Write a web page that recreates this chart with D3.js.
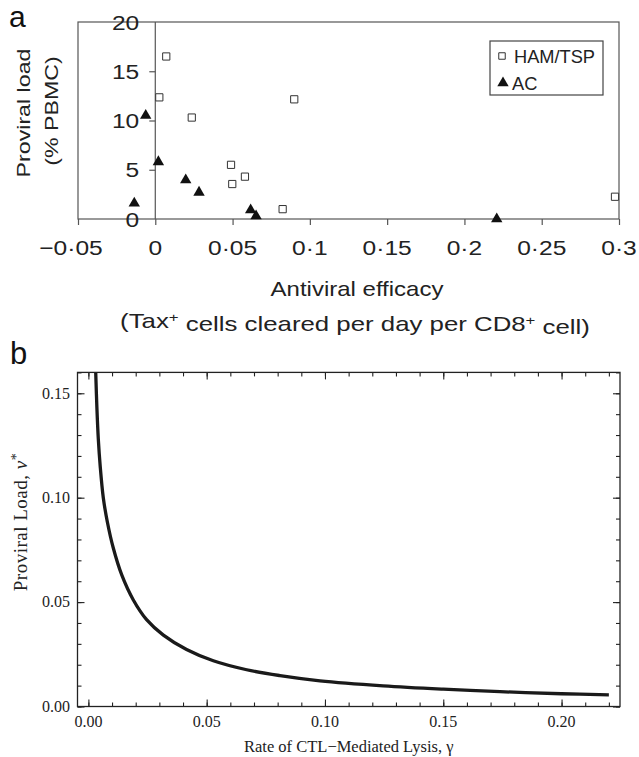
<!DOCTYPE html>
<html>
<head>
<meta charset="utf-8">
<script src="https://cdn.jsdelivr.net/npm/d3@7"></script>
<style>
  body { margin: 0; background: #fff; }
  svg { display: block; }
</style>
</head>
<body>
<div id="chart"></div>
<script>
'use strict';

// panel a: scatter of proviral load against antiviral efficacy
const hamX = [0.0071, 0.0026, 0.0236, 0.0899, 0.0490, 0.0498, 0.0580, 0.0824, 0.2974];
const hamY = [16.5, 12.35, 10.3, 12.15, 5.5, 3.55, 4.3, 1.0, 2.26];
const acX  = [-0.0062, 0.0020, -0.0136, 0.0197, 0.0283, 0.0617, 0.0652, 0.2209];
const acY  = [10.5, 5.8, 1.6, 3.96, 2.7, 0.91, 0.3, 0.0];
const xTicksA = [-0.05, 0, 0.05, 0.1, 0.15, 0.2, 0.25, 0.3];
const yTicksA = [0, 5, 10, 15, 20];

// panel b: model curve, proviral load v* against lysis rate gamma
const gammaB = [0.0029, 0.0031, 0.0036, 0.0042, 0.0050, 0.0063, 0.0080, 0.0105, 0.0141, 0.0190, 0.0246,
                0.0317, 0.0415, 0.0528, 0.0669, 0.0810, 0.0979, 0.1246, 0.1500, 0.1740, 0.2000, 0.2200];
const loadB  = [0.1665, 0.160, 0.143, 0.128, 0.115, 0.100, 0.0885, 0.0760, 0.0630, 0.0510, 0.0416,
                0.0342, 0.0273, 0.0219, 0.0176, 0.0148, 0.0123, 0.0099, 0.0083, 0.0071, 0.0061, 0.0056];
const xMajorB = [0, 0.05, 0.1, 0.15, 0.2];
const yMajorB = [0, 0.05, 0.1, 0.15];

const width = 639, height = 757;

let svg = d3.select("#chart")
  .append("svg")
    .attr("width", width)
    .attr("height", height);

svg.append("rect")
  .attr("width", width)
  .attr("height", height)
  .style("fill", "#fff");

// text helper, sx widens the glyphs along the text direction
function addText(g, x, y, str, size, opts) {
  opts = opts || {};
  let t = g.append("text")
    .attr("transform", "translate(" + x + "," + y + ") rotate(" + (opts.rot || 0) + ") scale(" + (opts.sx || 1) + ",1)")
    .attr("text-anchor", opts.anchor || "start")
    .style("font-family", opts.family || "'Liberation Sans', Arial, sans-serif")
    .style("font-size", size + "px")
    .style("fill", opts.fill || "#222");
  if (opts.dy) t.attr("dy", opts.dy);
  if (opts.dx) t.attr("dx", opts.dx);
  if (opts.spacing) t.style("letter-spacing", opts.spacing + "px");
  if (str !== null) t.text(str);
  return t;
}

const fmtA = function(v) {
  if (v === 0) return "0";
  return d3.format("~g")(v).replace("-", "\u2212").replace(".", "\u00b7");
};

/* ---------------- panel a ---------------- */
let xA = d3.scaleLinear().domain([-0.05, 0.3]).range([78, 619]);
let yA = d3.scaleLinear().domain([0, 20]).range([219, 22]);
const gA = svg.append("g");
const sansW = 1.17;

gA.append("rect")
  .attr("x", xA.range()[0])
  .attr("y", yA.range()[1])
  .attr("width", xA.range()[1] - xA.range()[0])
  .attr("height", yA.range()[0] - yA.range()[1])
  .style("fill", "none")
  .style("stroke", "#555")
  .style("stroke-width", 1.2);

// vertical axis drawn at x = 0
gA.append("line")
  .attr("x1", xA(0)).attr("x2", xA(0))
  .attr("y1", yA(0)).attr("y2", yA(20))
  .style("stroke", "#555")
  .style("stroke-width", 1.2);

let yAxisA = gA.append("g")
  .attr("transform", "translate(" + xA(0) + ",0)")
  .call(d3.axisLeft(yA).tickValues([5, 10, 15]).tickSize(6).tickFormat(""));
yAxisA.select(".domain").remove();
yAxisA.selectAll("line").style("stroke", "#555").style("stroke-width", 1.2);

let xAxisA = gA.append("g")
  .attr("transform", "translate(0," + yA(0) + ")")
  .call(d3.axisBottom(xA).tickValues(xTicksA).tickSize(6).tickFormat(""));
xAxisA.select(".domain").remove();
xAxisA.selectAll("line").style("stroke", "#555").style("stroke-width", 1.2);

yTicksA.forEach(function(v) {
  addText(gA, xA(0) - 16, yA(v), String(v), 21, {anchor: "end", dy: "0.36em", sx: sansW});
});
xTicksA.forEach(function(v) {
  // the minus sign hangs out to the left of the centred number
  let shift = v < 0 ? -7 : 0;
  addText(gA, xA(v) + shift, 255, fmtA(v), 21, {anchor: "middle", sx: sansW});
});

// axis titles
addText(gA, 30, 113, "Proviral load", 19, {anchor: "middle", rot: -90, sx: 1.22});
addText(gA, 58, 111, "(% PBMC)", 19, {anchor: "middle", rot: -90, sx: 1.22});
addText(gA, 357, 296, "Antiviral efficacy", 20, {anchor: "middle", sx: 1.2});
let sub = addText(gA, 355, 328, null, 20, {anchor: "middle", sx: 1.29});
sub.append("tspan").text("(Tax");
sub.append("tspan").attr("dy", "-0.45em").style("font-size", "13px").text("+");
sub.append("tspan").attr("dy", "0.45em").text(" cells cleared per day per CD8");
sub.append("tspan").attr("dy", "-0.45em").style("font-size", "13px").text("+");
sub.append("tspan").attr("dy", "0.45em").text(" cell)");

// panel letter
addText(svg, 9, 27, "a", 30, {fill: "#111"});

// markers
const squareSym = d3.symbol().type(d3.symbolSquare).size(52);
const triSym = d3.symbol().type(d3.symbolTriangle).size(56);

gA.selectAll(".ham")
  .data(d3.zip(hamX, hamY))
  .enter()
  .append("path")
  .attr("class", "ham")
  .attr("d", squareSym)
  .attr("transform", function(d) { return "translate(" + xA(d[0]) + "," + yA(d[1]) + ")"; })
  .style("fill", "#fff")
  .style("stroke", "#333")
  .style("stroke-width", 1);

gA.selectAll(".ac")
  .data(d3.zip(acX, acY))
  .enter()
  .append("path")
  .attr("class", "ac")
  .attr("d", triSym)
  .attr("transform", function(d) { return "translate(" + xA(d[0]) + "," + yA(d[1]) + ")"; })
  .style("fill", "#111");

// legend
let legend = gA.append("g");
legend.append("rect")
  .attr("x", 490).attr("y", 41)
  .attr("width", 113).attr("height", 54)
  .style("fill", "#fff")
  .style("stroke", "#444")
  .style("stroke-width", 1.2);
legend.append("path")
  .attr("d", d3.symbol().type(d3.symbolSquare).size(42))
  .attr("transform", "translate(502,56)")
  .style("fill", "#fff").style("stroke", "#333");
legend.append("path")
  .attr("d", triSym)
  .attr("transform", "translate(503,83)")
  .style("fill", "#111");
addText(legend, 514, 63, "HAM/TSP", 19, {sx: 0.96});
addText(legend, 512, 90, "AC", 19, {sx: 0.96});

/* ---------------- panel b ---------------- */
let xB = d3.scaleLinear().domain([-0.0046, 0.2247]).range([77.5, 620]);
let yB = d3.scaleLinear().domain([0, 0.16]).range([706.5, 372.4]);
const gB = svg.append("g");
const serif = "'Liberation Serif', 'Times New Roman', serif";

const xMinorB = d3.range(0, 23).map(function(i) { return i / 100; });
const yMinorB = d3.range(0, 17).map(function(i) { return i / 100; });

function drawTicks(axisFn, scale, values, size, tx, ty) {
  let a = gB.append("g")
    .attr("transform", "translate(" + tx + "," + ty + ")")
    .call(axisFn(scale).tickValues(values).tickSize(size).tickSizeOuter(0).tickFormat(""));
  a.select(".domain").remove();
  a.selectAll("line").style("stroke", "#222").style("stroke-width", 1.1);
}
// ticks point inward on all four sides
drawTicks(d3.axisBottom, xB, xMinorB, -4, 0, yB.range()[0]);
drawTicks(d3.axisBottom, xB, xMajorB, -7, 0, yB.range()[0]);
drawTicks(d3.axisTop, xB, xMinorB, -4, 0, yB.range()[1]);
drawTicks(d3.axisTop, xB, xMajorB, -7, 0, yB.range()[1]);
drawTicks(d3.axisLeft, yB, yMinorB, -4, xB.range()[0], 0);
drawTicks(d3.axisLeft, yB, yMajorB, -7, xB.range()[0], 0);
drawTicks(d3.axisRight, yB, yMinorB, -4, xB.range()[1], 0);
drawTicks(d3.axisRight, yB, yMajorB, -7, xB.range()[1], 0);

gB.append("clipPath")
  .attr("id", "clipB")
  .append("rect")
  .attr("x", xB.range()[0]).attr("y", yB.range()[1])
  .attr("width", xB.range()[1] - xB.range()[0])
  .attr("height", yB.range()[0] - yB.range()[1]);

let line = d3.line()
  .x(function(d) { return xB(d[0]); })
  .y(function(d) { return yB(d[1]); })
  .curve(d3.curveCatmullRom.alpha(0.5));

gB.append("path")
  .datum(d3.zip(gammaB, loadB))
  .attr("clip-path", "url(#clipB)")
  .attr("d", line)
  .style("fill", "none")
  .style("stroke", "#1a1a1a")
  .style("stroke-width", 3.3);

gB.append("rect")
  .attr("x", xB.range()[0])
  .attr("y", yB.range()[1])
  .attr("width", xB.range()[1] - xB.range()[0])
  .attr("height", yB.range()[0] - yB.range()[1])
  .style("fill", "none")
  .style("stroke", "#222")
  .style("stroke-width", 1.3);

xMajorB.forEach(function(v) {
  addText(gB, xB(v), 727, d3.format(".2f")(v), 16, {anchor: "middle", family: serif});
});
yMajorB.forEach(function(v) {
  addText(gB, 70, yB(v), d3.format(".2f")(v), 16, {anchor: "end", dy: "0.33em", family: serif});
});

addText(gB, (xB.range()[0] + xB.range()[1]) / 2, 752, "Rate of CTL\u2212Mediated Lysis, \u03b3", 16.5, {anchor: "middle", family: serif});
let ylab = addText(gB, 27, 522, null, 19, {anchor: "middle", rot: -90, family: serif, spacing: 0.5});
ylab.append("tspan").text("Proviral Load, ");
ylab.append("tspan").style("font-style", "italic").text("v");
ylab.append("tspan").attr("dy", "-0.4em").style("font-size", "14px").text("*");

addText(svg, 10, 364, "b", 31, {fill: "#111"});
</script>
</body>
</html>
